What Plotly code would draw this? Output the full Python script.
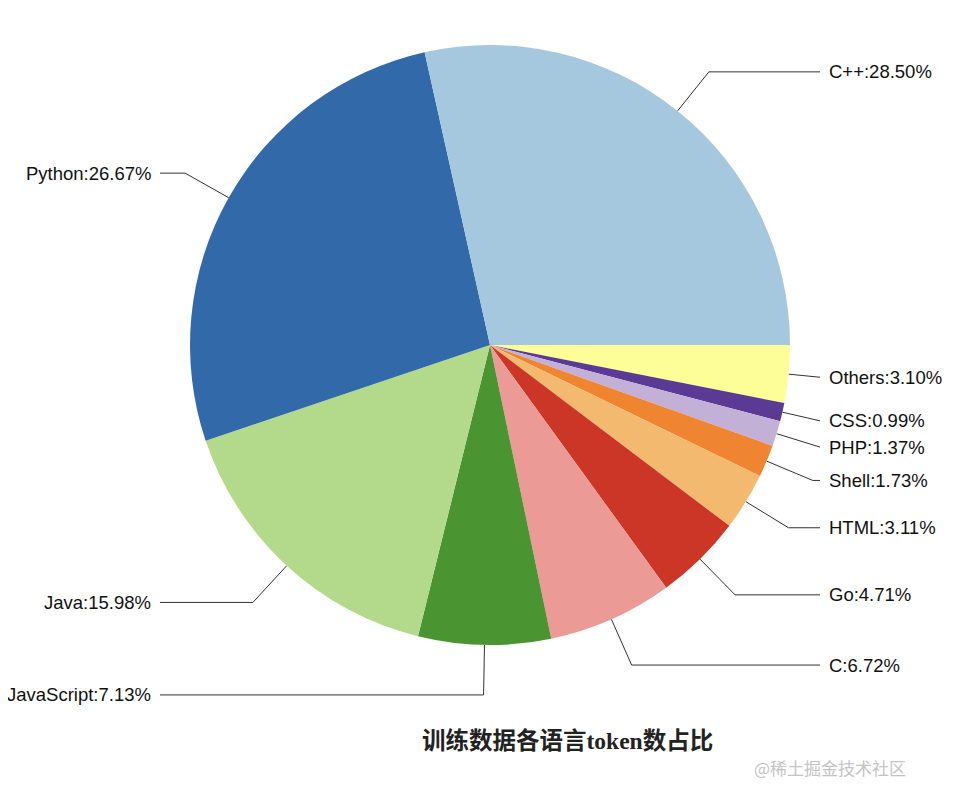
import math
import plotly.graph_objects as go

# 各语言 token 占比 (%)
languages = ["C++", "Python", "Java", "JavaScript", "C", "Go", "HTML", "Shell", "PHP", "CSS", "Others"]
shares = [28.50, 26.67, 15.98, 7.13, 6.72, 4.71, 3.11, 1.73, 1.37, 0.99, 3.10]
colors = ["#a6c8de", "#3269a8", "#b3da8a", "#4a9432", "#ec9a95", "#cc3626",
          "#f3b96e", "#ef8530", "#c3b0d6", "#5b3a93", "#fefe99"]

W, H = 958, 798
off = 8  # 页面 body 的默认边距
cx, cy, R = 490, 345, 300
elbow_r = 350
line_end = 330

fig = go.Figure()

# 逆时针排列 = 反转顺序后顺时针从 3 点钟开始
fig.add_trace(go.Pie(
    labels=languages[::-1],
    values=shares[::-1],
    sort=False,
    direction="clockwise",
    rotation=90,
    marker=dict(colors=colors[::-1], line=dict(width=0)),
    textinfo="none",
    hovertemplate="%{label}: %{value:.2f}%<extra></extra>",
    showlegend=False,
    domain=dict(x=[(cx - R - off) / W, (cx + R - off) / W],
                y=[(H + off - cy - R) / H, (H + off - cy + R) / H]),
))

# 引导线和标签
total = sum(shares)
cum = 0
annotations = []
for name, v in zip(languages, shares):
    mid = (cum + v / 2) / total * 2 * math.pi
    cum += v
    c, s = math.cos(mid), math.sin(mid)
    r2 = min(elbow_r, line_end / abs(c)) if abs(c) > 1e-6 else elbow_r
    x0, y0 = cx + R * c, cy - R * s
    x1, y1 = cx + r2 * c, cy - r2 * s
    side = 1 if c >= 0 else -1
    x2 = cx + side * line_end
    fig.add_trace(go.Scatter(
        x=[x0, x1, x2], y=[y0, y1, y1], mode="lines",
        line=dict(color="#333333", width=1), hoverinfo="skip", showlegend=False,
    ))
    annotations.append(dict(
        x=x2 + side * 7, y=y1, xref="x", yref="y",
        text=f"{name}:{v:.2f}%", showarrow=False,
        xanchor="left" if side > 0 else "right", yanchor="middle",
        font=dict(family="Liberation Sans, Arial", size=18.5, color="#111111"),
    ))

# 标题和水印
annotations.append(dict(
    x=567, y=741, xref="x", yref="y", text="<b>训练数据各语言token数占比</b>",
    showarrow=False, xanchor="center", yanchor="middle",
    font=dict(family="Liberation Serif, Noto Sans CJK SC", size=23.5, color="#222222"),
))
annotations.append(dict(
    x=752, y=767, xref="x", yref="y", text="@稀土掘金技术社区",
    showarrow=False, xanchor="left", yanchor="middle",
    font=dict(family="Noto Sans CJK SC", size=17, color="#c4c4c4"),
))

fig.update_layout(
    width=W, height=H,
    margin=dict(l=0, r=0, t=0, b=0),
    paper_bgcolor="white", plot_bgcolor="white",
    xaxis=dict(range=[off, W + off], visible=False, fixedrange=True),
    yaxis=dict(range=[H + off, off], visible=False, fixedrange=True),
    annotations=annotations,
)

fig.write_html("out.html")
